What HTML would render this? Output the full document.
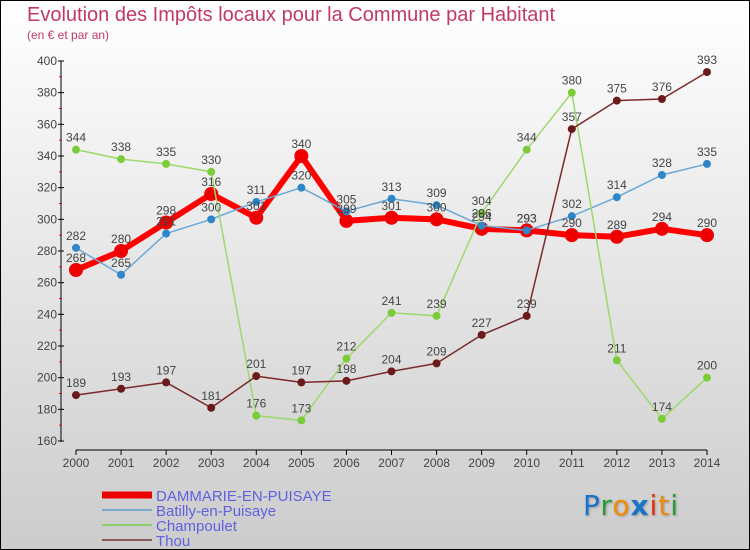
<!DOCTYPE html>
<html><head><meta charset="utf-8"><style>
body{margin:0}
#wrap{width:748px;height:548px;border:1px solid #000;position:relative;background:linear-gradient(#fff,#ccc);font-family:"Liberation Sans",sans-serif;overflow:hidden}
.t{position:absolute;color:#c0396a}
</style></head><body>
<div id="wrap">
<div class="t" style="left:26px;top:3px;font-size:20px">Evolution des Impôts locaux pour la Commune par Habitant</div>
<div class="t" style="left:26px;top:27px;font-size:12px">(en € et par an)</div>
<svg id="c" width="748" height="548" style="position:absolute;left:0;top:0"></svg>
<div style="position:absolute;left:582px;top:488px;font-size:28px;font-family:'DejaVu Sans',sans-serif;letter-spacing:1px;text-shadow:1px 1px 2px #999"><span style="color:#1a73c8">P</span><span style="color:#2a9a3a">r</span><span style="color:#f08a00">o</span><span style="color:#1a73c8;font-weight:bold">x</span><span style="color:#e03010">i</span><span style="color:#f08a00">t</span><span style="color:#2a9a3a">i</span></div>
</div>
<script>
const years=[2000,2001,2002,2003,2004,2005,2006,2007,2008,2009,2010,2011,2012,2013,2014];
const dammarie=[268,280,298,316,301,340,299,301,300,294,293,290,289,294,290];
const batilly=[282,265,291,300,311,320,305,313,309,296,293,302,314,328,335];
const champoulet=[344,338,335,330,176,173,212,241,239,304,344,380,211,174,200];
const thou=[189,193,197,181,201,197,198,204,209,227,239,357,375,376,393];
const yTicks=[160,180,200,220,240,260,280,300,320,340,360,380,400];
const names=["DAMMARIE-EN-PUISAYE","Batilly-en-Puisaye","Champoulet","Thou"];
const svg=document.getElementById('c');const NS='http://www.w3.org/2000/svg';
const x=i=>75+i*(706-75)/(years.length-1);
const y=v=>440-(v-160)*(380/240);
function mk(t,a,p){const e=document.createElementNS(NS,t);for(const k in a)e.setAttribute(k,a[k]);(p||svg).appendChild(e);return e;}
const ax=mk('g',{});


mk('line',{x1:60,y1:60,x2:60,y2:441,stroke:'#000'},ax);
mk('line',{x1:75,y1:449,x2:706,y2:449,stroke:'#000'},ax);
yTicks.forEach((v,i)=>{mk('line',{x1:57,x2:63,y1:y(v),y2:y(v),stroke:'#000'},ax);
 if(i<yTicks.length-1)mk('line',{x1:58,x2:61,y1:y(v+10),y2:y(v+10),stroke:'#f00'},ax);
 const t=mk('text',{x:56,y:y(v)+4,'text-anchor':'end','font-size':12,fill:'#444'},ax);t.textContent=v;
 
 });
years.forEach((yr,i)=>{mk('line',{x1:x(i),x2:x(i),y1:449,y2:454,stroke:'#000'},ax);
 const t=mk('text',{x:x(i),y:466,'text-anchor':'middle','font-size':12,fill:'#444'},ax);t.textContent=yr;
 
 });
const series=[[dammarie,'#f00','#e00',6,7],[batilly,'#6aa8d8','#2f86c8',1.5,4],[champoulet,'#9ada6a','#7ccc3a',1.5,4],[thou,'#7a2a2a','#6a1a1a',1.5,4]];
const labels=mk('g',{});
series.forEach((s,si)=>{const [d,lc,pc,w,r]=s;const g=mk('g',{});
 
 
 mk('polyline',{points:d.map((v,i)=>x(i)+','+y(v)).join(' '),fill:'none',stroke:lc,'stroke-width':w,'stroke-linejoin':'round'},g);
 d.forEach((v,i)=>{const c=mk('circle',{cx:x(i),cy:y(v),r:r,fill:pc},g);
  
  
  const t=mk('text',{x:x(i),y:y(v)-8,'text-anchor':'middle','font-size':12,fill:'#444'},labels);t.textContent=v;
  
  });});
svg.appendChild(labels);
const lg=mk('g',{});


const lcol=['#e00','#7aaac8','#8ccc6a','#8a5a5a'],lw=[7,2,2,2];
names.forEach((n,i)=>{const yy=494+i*15;
 mk('line',{x1:101,x2:151,y1:yy,y2:yy,stroke:lcol[i],'stroke-width':lw[i]},lg);
 const t=mk('text',{x:155,y:yy+6,'font-size':15,fill:'#6060e0'},lg);t.textContent=n;
 
 });
</script>
</body></html>
